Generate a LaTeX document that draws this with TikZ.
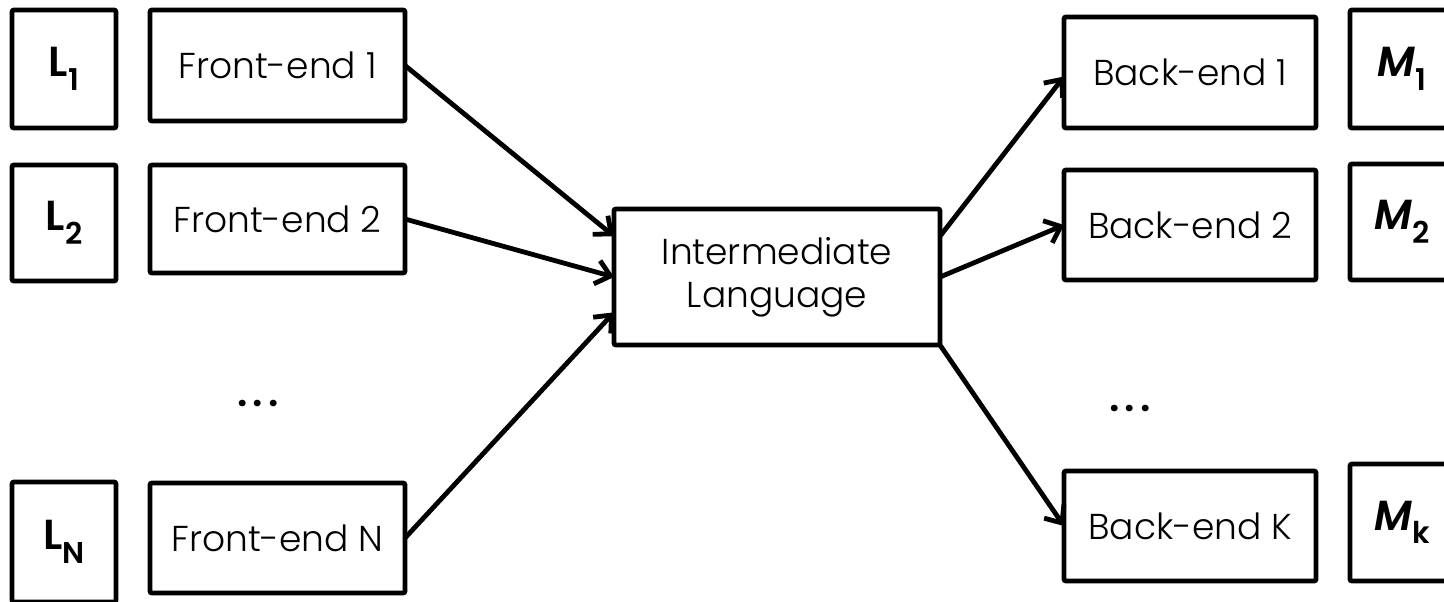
\documentclass[tikz,border=0pt]{standalone}
\usepackage{fontspec}
\setmainfont{Poppins}[UprightFont=* Light, BoldFont=* SemiBold, ItalicFont=* Light Italic, BoldItalicFont=* SemiBold Italic]
\usetikzlibrary{arrows.meta,calc}
\begin{document}
\begin{tikzpicture}[x=0.5pt,y=-0.5pt,
  bx/.style={draw,line width=2.4pt,rounded corners=1pt,inner sep=0pt,outer sep=0pt},
  lbl/.style={font=\fontsize{18}{21.5}\selectfont},
  sym/.style={font=\fontsize{21}{24}\selectfont\bfseries},
  conn/.style={line width=2.4pt,-{Straight Barb[length=7pt,width=12pt,line width=2.4pt]}},
  dots/.style={font=\fontsize{20}{24}\selectfont\bfseries}]
\useasboundingbox (0,0) rectangle (1444,601);
% language boxes
\node[bx,sym,minimum width=104*0.5pt,minimum height=118*0.5pt] (L1) at (64,69) {L\raisebox{-0.32em}{\fontsize{15}{15}\selectfont 1}};
\node[bx,sym,minimum width=104*0.5pt,minimum height=116*0.5pt] (L2) at (64,223) {L\raisebox{-0.32em}{\fontsize{15}{15}\selectfont 2}};
\node[bx,sym,minimum width=104*0.5pt,minimum height=120*0.5pt] (LN) at (64,542) {L\raisebox{-0.32em}{\fontsize{15}{15}\selectfont N}};
% front-ends
\node[bx,lbl,minimum width=255*0.5pt,minimum height=111*0.5pt] (F1) at (277.5,65.5) {Front-end 1};
\node[bx,lbl,minimum width=255*0.5pt,minimum height=108*0.5pt] (F2) at (277.5,219) {Front-end 2};
\node[bx,lbl,minimum width=255*0.5pt,minimum height=110*0.5pt] (FN) at (277.5,538) {Front-end N};
% intermediate
\node[bx,lbl,minimum width=326*0.5pt,minimum height=136*0.5pt,align=center] (IL) at (777,277) {Intermediate\\Language};
% back-ends
\node[bx,lbl,minimum width=252*0.5pt,minimum height=111*0.5pt] (B1) at (1190,72.5) {Back-end 1};
\node[bx,lbl,minimum width=252*0.5pt,minimum height=110*0.5pt] (B2) at (1190,225) {Back-end 2};
\node[bx,lbl,minimum width=252*0.5pt,minimum height=110*0.5pt] (BK) at (1190,526) {Back-end K};
% machine boxes
\node[bx,sym,minimum width=104*0.5pt,minimum height=118*0.5pt] (M1) at (1402,69) {\itshape M\raisebox{-0.32em}{\fontsize{15}{15}\selectfont\upshape 1}};
\node[bx,sym,minimum width=104*0.5pt,minimum height=116*0.5pt] (M2) at (1402,222) {\itshape M\raisebox{-0.32em}{\fontsize{15}{15}\selectfont\upshape 2}};
\node[bx,sym,minimum width=104*0.5pt,minimum height=117*0.5pt] (MK) at (1402,522.5) {\itshape M\raisebox{-0.32em}{\fontsize{15}{15}\selectfont\upshape k}};
% dots
\node[dots] (d1) at (258,403) {.\hspace{2.5pt}.\hspace{2.5pt}.};
\node[dots] (d2) at (1130,408) {.\hspace{2.5pt}.\hspace{2.5pt}.};
% connectors
\draw[conn] (F1.east) -- ($(IL.north west)!0.2!(IL.south west)$);
\draw[conn] (F2.east) -- ($(IL.north west)!0.5!(IL.south west)$);
\draw[conn] (FN.east) -- ($(IL.north west)!0.76!(IL.south west)$);
\draw[conn] ($(IL.north east)!0.2!(IL.south east)$) -- ($(B1.west)+(0,4)$);
\draw[conn] ($(IL.north east)!0.5!(IL.south east)$) -- (B2.west);
\draw[conn] (IL.south east) -- (BK.west);
\end{tikzpicture}
\end{document}
